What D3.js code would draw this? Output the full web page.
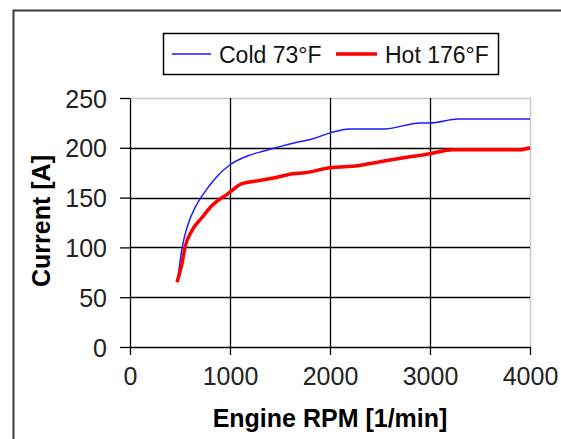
<!DOCTYPE html>
<html>
<head>
<meta charset="utf-8">
<script src="https://cdn.jsdelivr.net/npm/d3@7"></script>
<style>
	body { margin: 0; background: #fff; }
	svg { display: block; font-family: Arial, "Liberation Sans", sans-serif; }
</style>
</head>
<body>
<div id="chart"></div>
<script>
// engine rpm / current readings
const coldRpm     = [480, 520, 570, 650, 730, 850, 1000, 1180, 1350, 1650, 1830, 2000, 2200, 2550, 2900, 3000, 3280, 4000];
const coldCurrent = [70, 99, 120, 140, 153, 169, 183, 192, 197, 205, 209, 215, 219, 219, 225, 225, 229, 229];
const hotRpm      = [470, 520, 550, 620, 720, 820, 980, 1120, 1280, 1450, 1630, 1750, 2000, 2280, 2500, 2800, 3000, 3230, 3900, 4000];
const hotCurrent  = [65, 84, 100, 117, 130, 142, 154, 164, 167, 170, 174, 175, 180, 182, 186, 191, 194, 198, 198, 200];
const xTicks = [0, 1000, 2000, 3000, 4000];
const yTicks = [0, 50, 100, 150, 200, 250];
const seriesNames = ['Cold 73°F', 'Hot 176°F'];

const full_width = 561, full_height = 439;
const margins = {left: 130, top: 98, right: 31, bottom: 92};
const width = full_width - margins.left - margins.right,
	height = full_height - margins.top - margins.bottom;

const svg = d3.select('#chart').append('svg')
	.attr('width', full_width)
	.attr('height', full_height);

// outer chart frame (runs off the right / bottom edge)
svg.append('rect')
	.attr('x', 13.5).attr('y', 10.5)
	.attr('width', 600).attr('height', 500)
	.attr('fill', 'none')
	.attr('stroke', '#3a3a3a')
	.attr('stroke-width', 2);

let x = d3.scaleLinear().domain([0, 4000]).range([0, width]);
let y = d3.scaleLinear().domain([0, 250]).range([height, 0]);

let g = svg.append('g')
	.attr('transform', 'translate(' + margins.left + ',' + margins.top + ')');

// plot border top + right in light gray
g.append('path')
	.attr('d', 'M0,0.5H' + (width + 0.5) + 'V' + height)
	.attr('fill', 'none')
	.attr('stroke', '#c8c8c8')
	.attr('stroke-width', 1.5);

// horizontal grid
g.selectAll('.hgrid')
	.data(yTicks.filter(d => d > 0 && d < 250))
	.enter().append('line')
	.attr('x1', 0).attr('x2', width)
	.attr('y1', d => Math.round(y(d)) + 0.5).attr('y2', d => Math.round(y(d)) + 0.5)
	.attr('stroke', '#000').attr('stroke-width', 1.3);

// vertical grid
g.selectAll('.vgrid')
	.data(xTicks.filter(d => d > 0 && d < 4000))
	.enter().append('line')
	.attr('y1', 0).attr('y2', height)
	.attr('x1', d => Math.round(x(d)) + 0.5).attr('x2', d => Math.round(x(d)) + 0.5)
	.attr('stroke', '#000').attr('stroke-width', 1.3);

let xAxis = g.append('g')
	.attr('transform', 'translate(0,' + height + ')')
	.call(d3.axisBottom(x).tickValues(xTicks).tickFormat(d3.format('d'))
		.tickSize(8).tickPadding(12).tickSizeOuter(0));
let yAxis = g.append('g')
	.call(d3.axisLeft(y).tickValues(yTicks).tickFormat(d3.format('d'))
		.tickSize(10).tickPadding(13).tickSizeOuter(0));

[xAxis, yAxis].forEach(a => {
	a.select('.domain').attr('stroke', '#000').attr('stroke-width', 1.3);
	a.selectAll('.tick line').attr('stroke', '#000').attr('stroke-width', 1.3);
	a.selectAll('.tick text')
		.attr('fill', '#222')
		.style('font-size', '25px')
		.style('font-family', 'Arial, "Liberation Sans", sans-serif');
});
yAxis.selectAll('.tick text').attr('dy', '0.36em');

let line = d3.line()
	.x(d => x(d[0]))
	.y(d => y(d[1]))
	.curve(d3.curveMonotoneX);

g.append('path')
	.datum(coldRpm.map((r, i) => [r, coldCurrent[i]]))
	.attr('fill', 'none')
	.attr('stroke', '#1a1aff')
	.attr('stroke-width', 1.5)
	.attr('d', line);

g.append('path')
	.datum(hotRpm.map((r, i) => [r, hotCurrent[i]]))
	.attr('fill', 'none')
	.attr('stroke', '#ff0000')
	.attr('stroke-width', 3.5)
	.attr('stroke-linejoin', 'round')
	.attr('d', line);

// axis titles
svg.append('text')
	.attr('x', 330).attr('y', 427)
	.attr('text-anchor', 'middle')
	.style('font-size', '25px').style('font-weight', 'bold')
	.text('Engine RPM [1/min]');

svg.append('text')
	.attr('transform', 'translate(50,221) rotate(-90)')
	.attr('text-anchor', 'middle')
	.style('font-size', '25px').style('font-weight', 'bold')
	.text('Current [A]');

// legend
let legend = svg.append('g');
legend.append('rect')
	.attr('x', 163.5).attr('y', 33.5)
	.attr('width', 335).attr('height', 41)
	.attr('fill', '#fff').attr('stroke', '#000').attr('stroke-width', 1.5);

const legendItems = [
	{name: seriesNames[0], color: '#1a1aff', w: 1.5, x0: 172, x1: 211, tx: 219},
	{name: seriesNames[1], color: '#ff0000', w: 3.5, x0: 336, x1: 377, tx: 385}
];
legendItems.forEach(d => {
	legend.append('line')
		.attr('x1', d.x0).attr('x2', d.x1)
		.attr('y1', 54).attr('y2', 54)
		.attr('stroke', d.color).attr('stroke-width', d.w);
	legend.append('text')
		.attr('x', d.tx).attr('y', 62.5)
		.style('font-size', '23px')
		.attr('fill', '#111')
		.text(d.name);
});
</script>
</body>
</html>
